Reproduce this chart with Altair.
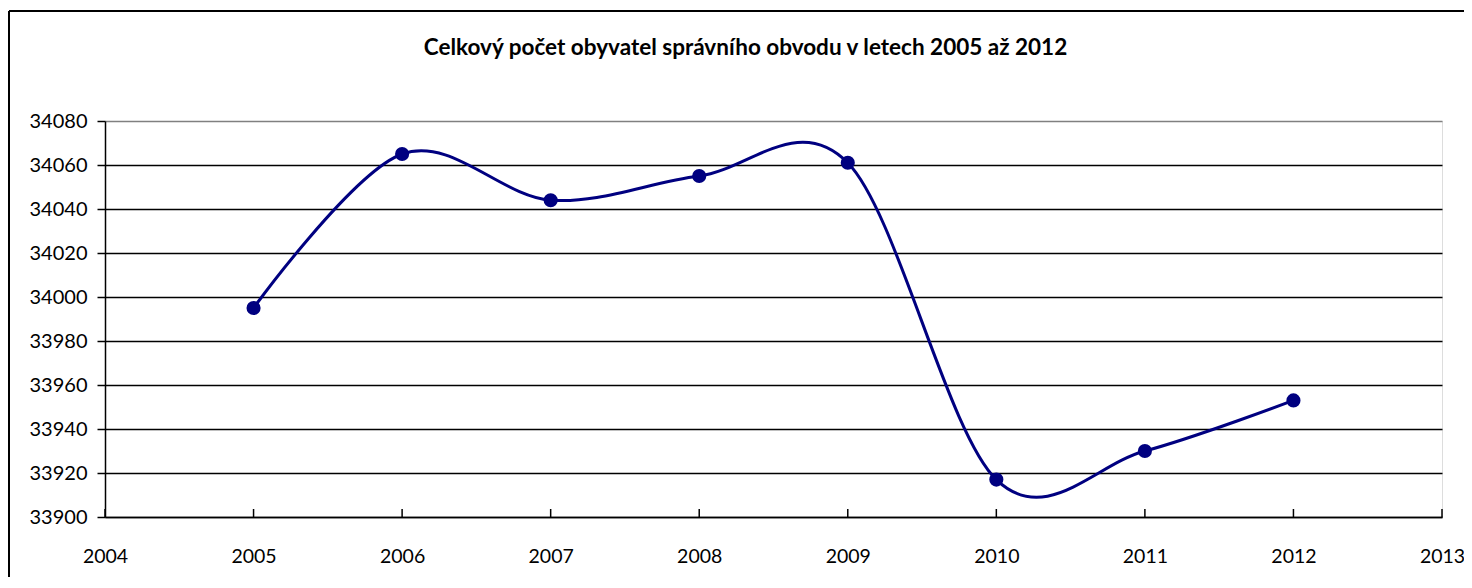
import altair as alt
import pandas as pd

# Data
years = [2005, 2006, 2007, 2008, 2009, 2010, 2011, 2012]
population = [33995, 34065, 34044, 34055, 34061, 33917, 33930, 33953]
x_ticks = [2004, 2005, 2006, 2007, 2008, 2009, 2010, 2011, 2012, 2013]
y_ticks = [33900, 33920, 33940, 33960, 33980, 34000, 34020, 34040, 34060, 34080]
title_text = "Celkový počet obyvatel správního obvodu v letech 2005 až 2012"

df = pd.DataFrame({"rok": years, "obyvatel": population})
ticks_df = pd.DataFrame({"rok": x_ticks})

FONT = "Lato"
W, H = 1337, 396

x_scale = alt.Scale(domain=[2004, 2013], nice=False, zero=False)
y_scale = alt.Scale(domain=[33900, 34080], nice=False, zero=False)

x_enc = alt.X(
    "rok:Q",
    scale=x_scale,
    axis=alt.Axis(
        values=x_ticks, format="d", title=None, grid=False, labelFlush=False,
        tickSize=0, labelPadding=30, domainColor="black", domainWidth=1.5,
        labelFont=FONT, labelFontSize=19.5, labelColor="black",
    ),
)
y_enc = alt.Y(
    "obyvatel:Q",
    scale=y_scale,
    axis=alt.Axis(
        values=y_ticks, format="d", title=None, grid=True, labelFlush=False,
        gridColor=alt.condition("datum.value == 34080", alt.value("#808080"), alt.value("black")),
        gridWidth=1.5, tickSize=8, tickColor="black", tickWidth=1.5,
        labelPadding=10, domainColor="black", domainWidth=1.5,
        labelFont=FONT, labelFontSize=20, labelColor="black",
    ),
)

line = alt.Chart(df).mark_line(
    color="#000080", strokeWidth=3, interpolate="cardinal"
).encode(x=x_enc, y=y_enc)

points = alt.Chart(df).mark_point(
    filled=True, color="#000080", size=200, opacity=1
).encode(x="rok:Q", y="obyvatel:Q")

inner_ticks = alt.Chart(ticks_df).mark_rule(
    color="black", strokeWidth=1.5
).encode(x=alt.X("rok:Q"), y=alt.value(H), y2=alt.value(H - 8))

# outer chart frame (left and top edges visible in the window)
frame_left = alt.Chart(ticks_df).mark_rule(color="black", strokeWidth=1.5, clip=False).encode(
    x=alt.value(-96), y=alt.value(-110), y2=alt.value(H + 80)
)
frame_top = alt.Chart(ticks_df).mark_rule(color="black", strokeWidth=1.5, clip=False).encode(
    x=alt.value(-96), x2=alt.value(W + 60), y=alt.value(-110)
)

chart = alt.layer(inner_ticks, line, points, frame_left, frame_top).properties(
    width=W,
    height=H,
    title=alt.TitleParams(
        text=title_text, font=FONT, fontSize=22.5, fontWeight="bold",
        color="black", anchor="middle", offset=-72, dx=-28, baseline="bottom",
    ),
    autosize=alt.AutoSizeParams(type="none"),
    padding={"left": 97, "top": 113, "right": 22, "bottom": 60},
).configure_view(
    fill="#C0C0C0", stroke="#808080", strokeWidth=1.5
).configure(background="white")

chart.save("out.html", embed_options={"renderer": "svg", "actions": False})
